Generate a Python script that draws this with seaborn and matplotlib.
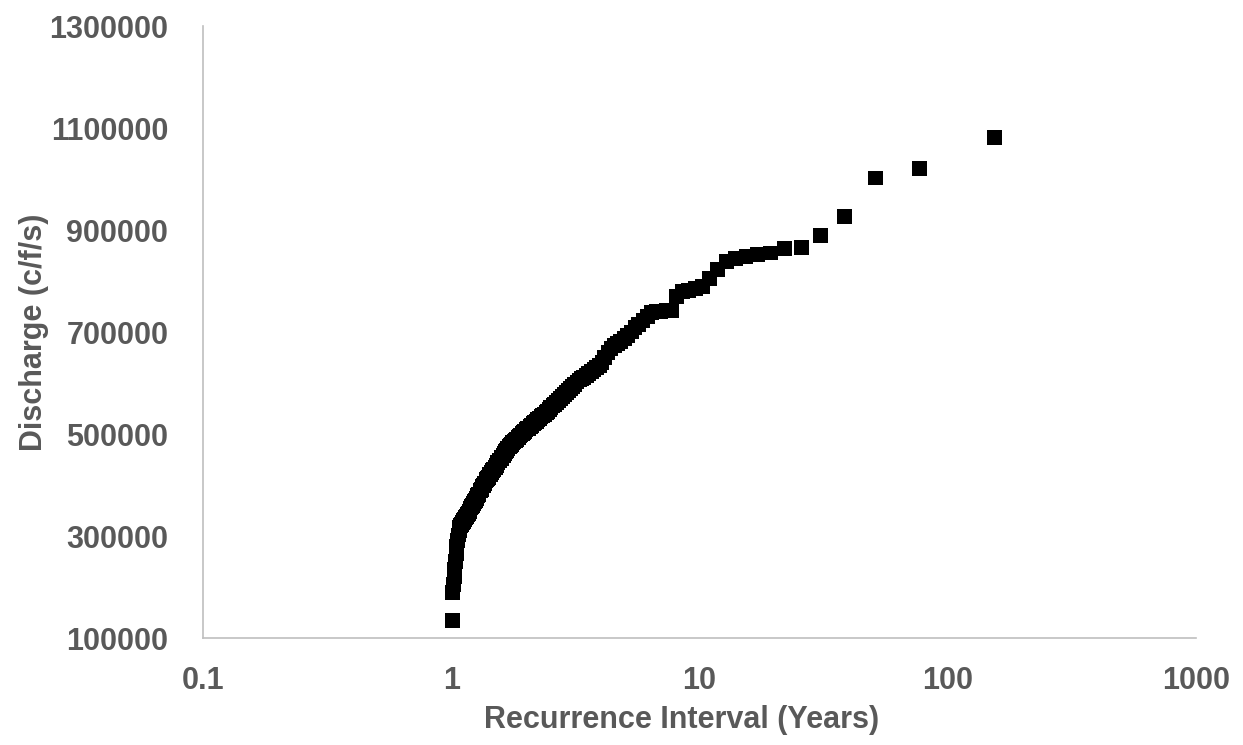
#!/usr/bin/env python3

import seaborn as sns
import matplotlib.pyplot as plt
import matplotlib.ticker as ticker
import pandas as pd

# recurrence interval (years) per rank, largest flood first
intervalo = [
    154.00, 77.00, 51.33, 38.50, 30.80, 25.67, 22.00, 19.25, 17.11, 15.40,
    14.00, 12.83, 11.85, 11.00, 10.27, 9.63, 9.06, 8.56, 8.11, 7.70,
    7.33, 7.00, 6.70, 6.42, 6.16, 5.92, 5.70, 5.50, 5.31, 5.13,
    4.97, 4.81, 4.67, 4.53, 4.40, 4.28, 4.16, 4.05, 3.95, 3.85,
    3.76, 3.67, 3.58, 3.50, 3.42, 3.35, 3.28, 3.21, 3.14, 3.08,
    3.02, 2.96, 2.91, 2.85, 2.80, 2.75, 2.70, 2.66, 2.61, 2.57,
    2.52, 2.48, 2.44, 2.41, 2.37, 2.33, 2.30, 2.26, 2.23, 2.20,
    2.17, 2.14, 2.11, 2.08, 2.05, 2.03, 2.00, 1.97, 1.95, 1.93,
    1.90, 1.88, 1.86, 1.83, 1.81, 1.79, 1.77, 1.75, 1.73, 1.71,
    1.69, 1.67, 1.66, 1.64, 1.62, 1.60, 1.59, 1.57, 1.56, 1.54,
    1.52, 1.51, 1.50, 1.48, 1.47, 1.45, 1.44, 1.43, 1.41, 1.40,
    1.39, 1.38, 1.36, 1.35, 1.34, 1.33, 1.32, 1.31, 1.29, 1.28,
    1.27, 1.26, 1.25, 1.24, 1.23, 1.22, 1.21, 1.20, 1.19, 1.18,
    1.18, 1.17, 1.16, 1.15, 1.14, 1.13, 1.12, 1.12, 1.11, 1.10,
    1.09, 1.08, 1.08, 1.07, 1.06, 1.05, 1.05, 1.04, 1.03, 1.03,
    1.02, 1.01, 1.01,
]

# discharge (c/f/s), same order
vazao = [
    1082000, 1021000, 1002000, 927000, 890000, 865000, 863000, 855000, 852000, 848000,
    845000, 838000, 822000, 805000, 790000, 786000, 782000, 780000, 770000, 743000,
    742000, 741000, 740000, 738000, 730000, 722000, 715000, 708000, 700000, 693000,
    688000, 682000, 678000, 674000, 668000, 660000, 650000, 640000, 635000, 630000,
    626000, 622000, 618000, 614000, 611000, 608000, 606000, 602000, 597000, 593000,
    589000, 585000, 581000, 577000, 573000, 569000, 565000, 561000, 558000, 556000,
    552000, 548000, 545000, 543000, 539000, 536000, 534000, 530000, 528000, 525000,
    522000, 520000, 516000, 514000, 511000, 510000, 508000, 505000, 503000, 501000,
    498000, 496000, 494000, 490000, 488000, 486000, 484000, 479000, 477000, 475000,
    472000, 467000, 466000, 461000, 458000, 455000, 452000, 449000, 447000, 444000,
    438000, 435000, 434000, 430000, 429000, 424000, 421000, 420000, 415000, 413000,
    411000, 409000, 403000, 399000, 398000, 396000, 392000, 389000, 381000, 380000,
    377000, 374000, 370000, 367000, 363000, 360000, 358000, 355000, 352000, 349000,
    348000, 345000, 342000, 339000, 336000, 333000, 330000, 329000, 326000, 323000,
    320000, 316000, 310000, 302000, 292000, 280000, 265000, 250000, 235000, 220000,
    205000, 190000, 135000,
]

x_ticks = [0.1, 1, 10, 100, 1000]
y_ticks = [100000, 300000, 500000, 700000, 900000, 1100000, 1300000]

df = pd.DataFrame({"Intervalo": intervalo, "Vazao": vazao})

sns.set_style("white")
plt.rcParams['font.family'] = ['Liberation Sans', 'DejaVu Sans']
cinza = "#595959"

fig = plt.figure(figsize=(12.43, 7.45), dpi=100)
ax = fig.add_axes([0.1633, 0.1436, 0.7989, 0.8215])

sns.scatterplot(data=df, x="Intervalo", y="Vazao", marker="s", s=115,
                color="black", edgecolor="none", linewidth=0, ax=ax)

ax.set_xscale("log")
ax.set_xlim(0.1, 1000)
ax.set_ylim(100000, 1300000)
ax.set_xticks(x_ticks)
ax.set_yticks(y_ticks)
ax.xaxis.set_major_formatter(ticker.FuncFormatter(lambda v, _: f"{v:g}"))
ax.yaxis.set_major_formatter(ticker.FuncFormatter(lambda v, _: f"{int(v)}"))
ax.xaxis.set_minor_locator(ticker.NullLocator())

for lbl in ax.get_xticklabels() + ax.get_yticklabels():
    lbl.set_fontsize(22)
    lbl.set_fontweight("bold")
    lbl.set_color(cinza)
ax.tick_params(axis="both", length=0)
ax.tick_params(axis="y", pad=25)
ax.tick_params(axis="x", pad=20)

ax.set_xlabel("Recurrence Interval (Years)", fontsize=22, fontweight="bold",
              color=cinza)
ax.xaxis.set_label_coords(0.482, -0.11)
ax.set_ylabel("Discharge (c/f/s)", fontsize=22, fontweight="bold",
              color=cinza)
ax.yaxis.set_label_coords(-0.155, 0.5)

for lado in ["top", "right"]:
    ax.spines[lado].set_visible(False)
for lado in ["left", "bottom"]:
    ax.spines[lado].set_color("#bfbfbf")
    ax.spines[lado].set_linewidth(1.2)

fig.savefig("out.png", dpi=100)
